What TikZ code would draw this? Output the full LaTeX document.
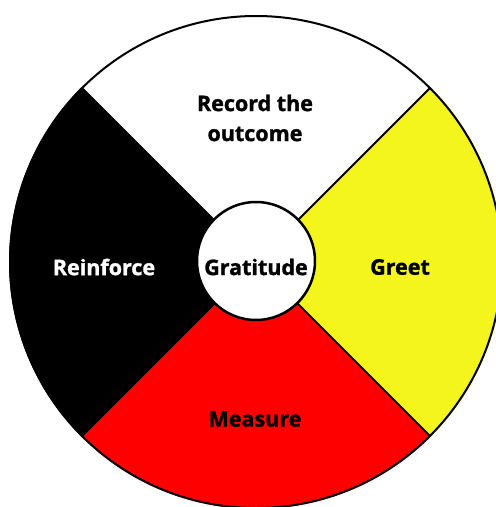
\documentclass[tikz,border=0pt]{standalone}
\usepackage{fontspec}
\setmainfont{Open Sans}[BoldFeatures={FakeBold=1.3}]
\definecolor{wyellow}{RGB}{245,245,30}
\definecolor{wred}{RGB}{255,0,0}
\begin{document}
\begin{tikzpicture}[x=1pt,y=1pt,
  lbl/.style={font=\bfseries\fontsize{21.5}{30}\selectfont, align=center, inner sep=0pt}]
\useasboundingbox (0,-507) rectangle (496,0);
\clip (0,-507) rectangle (496,0);
\coordinate (C) at (256,-262);
\fill[white] (C) -- ++(45:247) arc[start angle=45,end angle=135,radius=247] -- cycle;
\fill[black] (C) -- ++(135:247) arc[start angle=135,end angle=225,radius=247] -- cycle;
\fill[wred] (C) -- ++(225:247) arc[start angle=225,end angle=315,radius=247] -- cycle;
\fill[wyellow] (C) -- ++(-45:247) arc[start angle=-45,end angle=45,radius=247] -- cycle;
\draw[line width=2pt] (C) circle[radius=246];
\foreach \a in {45,135,225,315} \draw[line width=1.8pt] (C) -- ++(\a:246);
\node[circle, draw, line width=2.5pt, fill=white, minimum size=118pt, inner sep=0pt] (g) at (256,-261) {};
\node[lbl] (gt) at (256,-267) {Gratitude};
\node[lbl] (rec) at (255,-118) {Record the\\outcome};
\node[lbl, white] (rein) at (104,-267) {Reinforce};
\node[lbl] (greet) at (400,-267) {Greet};
\node[lbl] (meas) at (255,-419) {Measure};
\end{tikzpicture}
\end{document}
